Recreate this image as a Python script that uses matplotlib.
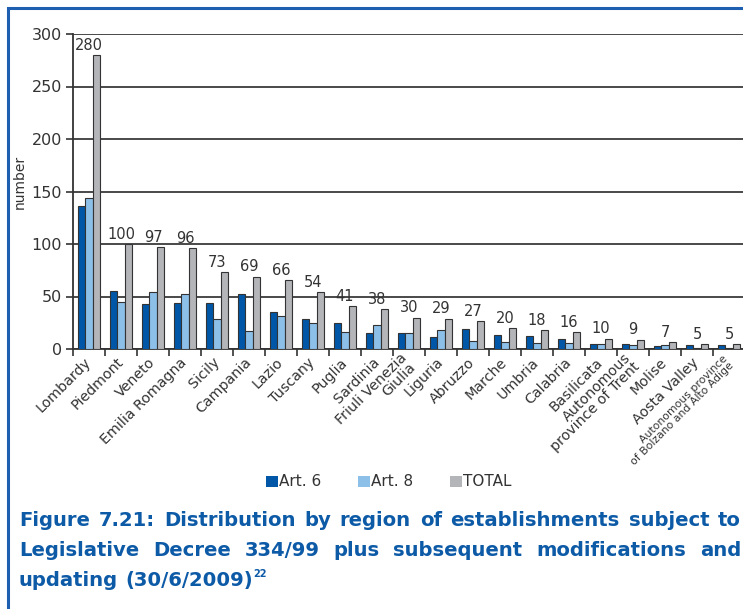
import matplotlib
matplotlib.use("Agg")
import matplotlib.pyplot as plt
import numpy as np
from matplotlib.patches import Patch, Rectangle

regions = ["Lombardy", "Piedmont", "Veneto", "Emilia Romagna", "Sicily", "Campania",
           "Lazio", "Tuscany", "Puglia", "Sardinia", "Friuli Venezia\nGiulia", "Liguria",
           "Abruzzo", "Marche", "Umbria", "Calabria", "Basilicata",
           "Autonomous\nprovince of Trent", "Molise", "Aosta Valley",
           "Autonomous province\nof Bolzano and Alto Adige"]
art6 = [136, 55, 43, 44, 44, 52, 35, 29, 25, 15, 15, 11, 19, 13, 12, 10, 5, 5, 3, 4, 4]
art8 = [144, 45, 54, 52, 29, 17, 31, 25, 16, 23, 15, 18, 8, 7, 6, 6, 5, 4, 4, 1, 1]
total = [280, 100, 97, 96, 73, 69, 66, 54, 41, 38, 30, 29, 27, 20, 18, 16, 10, 9, 7, 5, 5]
yticks = [0, 50, 100, 150, 200, 250, 300]
cap_lines = ["Figure 7.21: Distribution by region of establishments subject to",
             "Legislative Decree 334/99 plus subsequent modifications and",
             "updating (30/6/2009)"]

c6, c8, ct = "#0057a7", "#8dc0e9", "#b3b5b8"
dark = "#333333"
blue_caption = "#0d5aa7"

plt.rcParams["font.family"] = "DejaVu Sans"

W, H = 743, 609
fig = plt.figure(figsize=(W / 100, H / 100), dpi=100)

# frame round the figure
fig.patches.append(Rectangle((8 / W, -0.1), 1.2, 1 - 8 / H + 0.1, transform=fig.transFigure,
                             fill=False, edgecolor="#1f5fb2", linewidth=2.2))

ax = fig.add_axes([73 / W, 1 - 349 / H, 672 / W, 315 / H])
x = np.arange(len(regions))
bw = 0.22
kw = dict(width=bw, edgecolor=dark, linewidth=0.8, zorder=3)
ax.bar(x - bw, art6, color=c6, **kw)
ax.bar(x, art8, color=c8, **kw)
ax.bar(x + bw, total, color=ct, **kw)

for i, t in enumerate(total):
    ax.annotate(str(t), (i, t), xytext=(0, 1.5), textcoords="offset points",
                ha="center", va="bottom", fontsize=10.5, color=dark)

ax.set_xlim(-0.5, len(regions) - 0.5)
ax.set_ylim(0, 300)
ax.set_yticks(yticks)
ax.tick_params(axis="y", labelsize=11.5, labelcolor=dark, length=5, width=1.2,
               color=dark, direction="out", pad=3)
ax.yaxis.grid(True, color="#3a3a3a", linewidth=1.3, zorder=0)
ax.set_axisbelow(True)
for s in ["top", "right"]:
    ax.spines[s].set_visible(False)
for s in ["left", "bottom"]:
    ax.spines[s].set_color(dark)
    ax.spines[s].set_linewidth(1.3)

ax.set_xticks(x)
ax.set_xticks(np.arange(len(regions) + 1) - 0.5, minor=True)
ax.tick_params(axis="x", which="major", length=0, pad=8)
ax.tick_params(axis="x", which="minor", length=5, width=1.2, color=dark)
ax.set_xticklabels(regions, rotation=45, ha="right", va="center",
                   rotation_mode="anchor", fontsize=10.3, color=dark,
                   multialignment="right", linespacing=0.95)
ax.get_xticklabels()[-1].set_fontsize(7.8)

fig.text(20 / W, 1 - 182 / H, "number", rotation=90, ha="center", va="center",
         fontsize=10, color=dark)

handles = [Patch(facecolor=c6), Patch(facecolor=c8), Patch(facecolor=ct)]
fig.legend(handles, ["Art. 6", "Art. 8", "TOTAL"], loc="center",
           bbox_to_anchor=(389 / W, 1 - 482 / H), ncol=3, frameon=False,
           fontsize=11, handlelength=0.75, handleheight=0.75, handletextpad=0.1,
           columnspacing=2.4, labelcolor=dark)

# caption, size fitted to the first line, then justified line by line
x0, x1 = 19, 741
renderer = fig.canvas.get_renderer()
probe = fig.text(0, 0, cap_lines[0], weight="bold", size=14)
cap_size = min(15, 14 * (x1 - x0 - 12) / probe.get_window_extent(renderer).width)
probe.remove()
cap_font = dict(weight="bold", size=cap_size, color=blue_caption)
a1 = fig.text(0, 0, "a a", **cap_font)
a2 = fig.text(0, 0, "aa", **cap_font)
space = a1.get_window_extent(renderer).width - a2.get_window_extent(renderer).width
a1.remove()
a2.remove()

cap_base = [526, 556, 586]
for k, (line, yy) in enumerate(zip(cap_lines, cap_base)):
    words = line.split(" ")
    texts = [fig.text(0, 1 - yy / H, w, ha="left", va="baseline", **cap_font) for w in words]
    widths = [t.get_window_extent(renderer).width for t in texts]
    gap = (x1 - x0 - sum(widths)) / (len(words) - 1) if k < 2 else space
    pos = x0
    for t, w in zip(texts, widths):
        t.set_x(pos / W)
        pos += w + gap
    if k == 2:
        fig.text((pos - gap + 1) / W, 1 - (yy - 9) / H, "22", ha="left", va="baseline",
                 weight="bold", size=cap_size * 0.5, color=blue_caption)

fig.savefig("out.png", dpi=100)
